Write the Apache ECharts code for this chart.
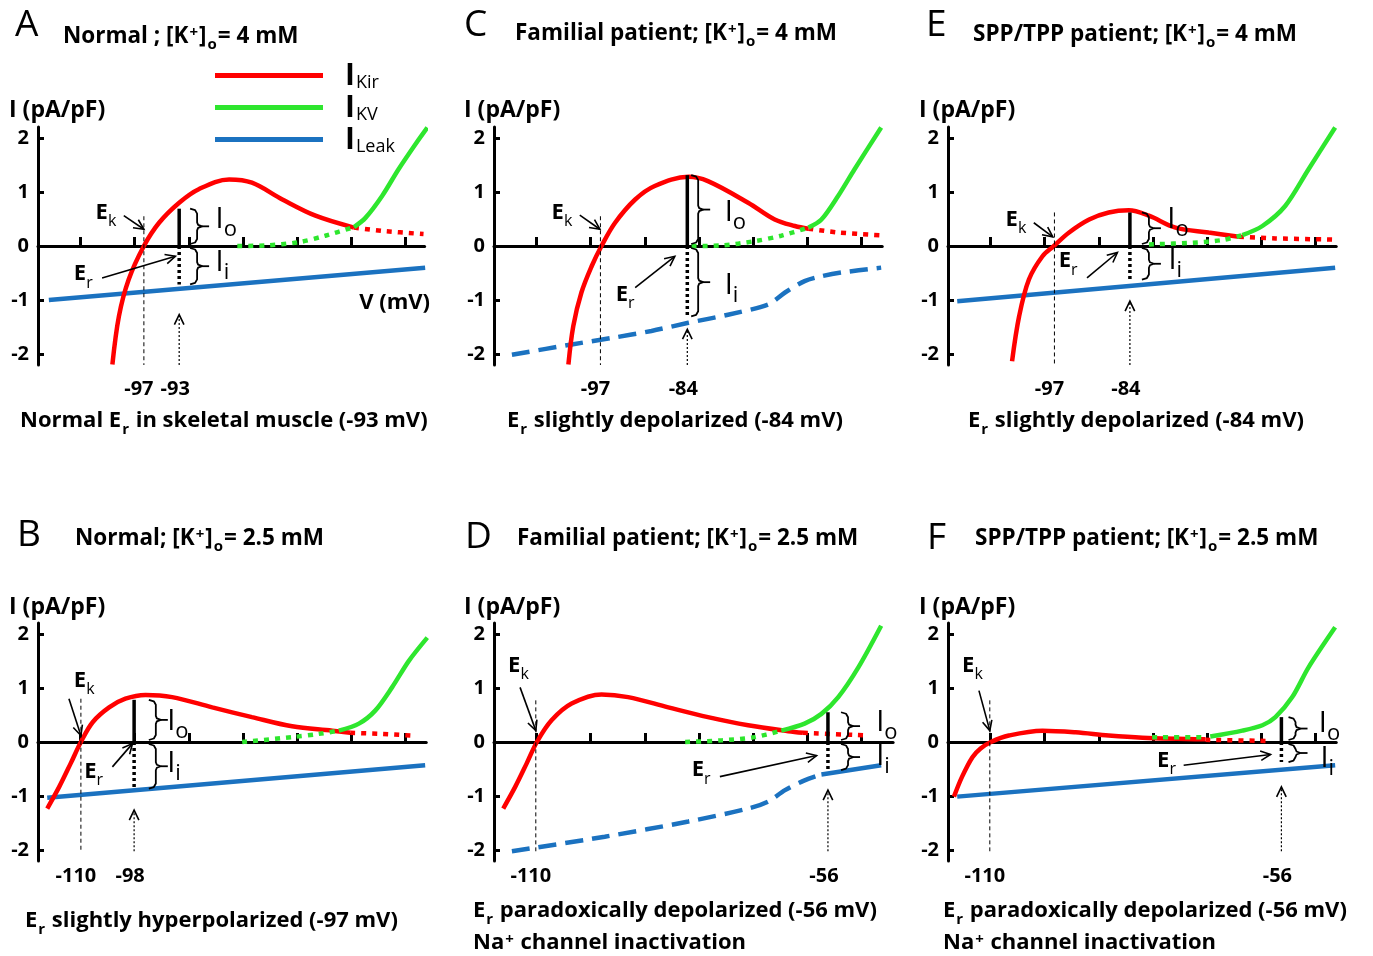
<!DOCTYPE html>
<html>
<head>
<meta charset="utf-8">
<title>IKir / IKv / ILeak</title>
<script src="https://cdn.jsdelivr.net/npm/echarts@6/dist/echarts.min.js"></script>
<style>
  html, body { margin: 0; padding: 0; background: #fff; }
  #chart { width: 1373px; height: 956px; }
</style>
</head>
<body>
<div id="chart"></div>
<script>
// panel order: A, C, E (top row) then B, D, F (bottom row)
// x is in "tick units" from the I axis (the sketch is not linear in mV), y in pA/pF
const panels = ['A', 'C', 'E', 'B', 'D', 'F'];

const kirA = [[1.37, -2.19], [1.49, -1.30], [1.67, -0.62], [1.95, 0], [2.23, 0.43], [2.60, 0.80], [2.96, 1.05], [3.52, 1.23], [3.94, 1.17], [4.50, 0.86], [5.11, 0.56], [5.82, 0.34]];
const kirOffA = [[5.82, 0.34], [6.34, 0.28], [7.10, 0.22]];
const kvOffA = [[3.67, 0], [4.19, 0.01], [4.80, 0.07], [5.29, 0.19], [5.82, 0.35]];
const kvA = [[5.82, 0.35], [6.03, 0.52], [6.34, 0.93], [6.64, 1.42], [6.97, 1.91], [7.17, 2.19]];
const leakA = [[0.20, -1.0], [7.13, -0.40]];
const leakDashA = [];

const kirC = [[1.37, -2.19], [1.46, -1.48], [1.61, -0.86], [1.80, -0.37], [1.98, 0], [2.23, 0.43], [2.60, 0.86], [2.96, 1.11], [3.58, 1.28], [3.94, 1.20], [4.68, 0.80], [5.17, 0.49], [5.54, 0.37], [5.79, 0.32]];
const kirOffC = [[5.79, 0.32], [6.34, 0.25], [7.10, 0.20]];
const kvOffC = [[3.64, 0], [4.19, 0.01], [4.80, 0.09], [5.29, 0.19], [5.79, 0.34]];
const kvC = [[5.79, 0.34], [6.03, 0.49], [6.34, 0.93], [6.64, 1.42], [7.13, 2.19]];
const leakC = [];
const leakDashC = [[0.33, -2.01], [1.43, -1.82], [2.17, -1.70], [2.90, -1.57], [3.58, -1.42], [4.31, -1.27], [5.05, -1.08], [5.36, -0.86], [5.72, -0.65], [6.03, -0.56], [6.40, -0.49], [7.13, -0.40]];

const kirE = [[1.18, -2.13], [1.31, -1.30], [1.49, -0.62], [1.74, -0.19], [1.95, 0], [2.23, 0.25], [2.60, 0.49], [2.96, 0.62], [3.33, 0.66], [3.70, 0.56], [4.19, 0.34], [4.80, 0.25], [5.36, 0.17]];
const kirOffE = [[5.36, 0.17], [6.03, 0.14], [7.10, 0.12]];
const kvOffE = [[3.70, 0.03], [4.50, 0.06], [5.05, 0.11], [5.42, 0.20]];
const kvE = [[5.42, 0.20], [5.79, 0.37], [6.21, 0.74], [6.64, 1.42], [7.13, 2.19]];
const leakE = [[0.17, -1.02], [7.13, -0.40]];
const leakDashE = [];

const kirB = [[0.17, -1.23], [0.39, -0.83], [0.60, -0.40], [0.79, 0], [1.01, 0.37], [1.31, 0.64], [1.61, 0.80], [1.98, 0.87], [2.47, 0.83], [3.21, 0.64], [3.94, 0.46], [4.68, 0.29], [5.42, 0.21], [5.75, 0.17]];
const kirOffB = [[5.75, 0.17], [6.34, 0.15], [6.86, 0.12]];
const kvOffB = [[3.76, 0], [4.68, 0.09], [5.17, 0.15], [5.54, 0.21]];
const kvB = [[5.54, 0.21], [5.91, 0.34], [6.21, 0.58], [6.52, 1.01], [6.83, 1.50], [7.17, 1.93]];
const leakB = [[0.17, -1.03], [7.13, -0.43]];
const leakDashB = [];

const kirD = [[0.17, -1.23], [0.39, -0.83], [0.60, -0.40], [0.79, 0], [1.06, 0.40], [1.43, 0.71], [1.98, 0.88], [2.47, 0.83], [3.21, 0.64], [3.94, 0.46], [4.68, 0.31], [5.42, 0.20], [5.69, 0.17]];
const kirOffD = [[5.69, 0.17], [6.89, 0.12]];
const kvOffD = [[3.52, 0], [4.19, 0.03], [4.80, 0.09], [5.29, 0.21]];
const kvD = [[5.29, 0.21], [5.72, 0.34], [6.03, 0.52], [6.34, 0.83], [6.71, 1.38], [7.13, 2.15]];
const leakD = [[6.03, -0.60], [7.13, -0.43]];
const leakDashD = [[0.33, -2.02], [2.04, -1.75], [3.58, -1.47], [4.68, -1.23], [5.05, -1.10], [5.36, -0.89], [5.72, -0.71], [6.03, -0.60]];

const kirF = [[0.11, -1.01], [0.26, -0.64], [0.45, -0.28], [0.60, -0.12], [0.79, 0], [1.12, 0.12], [1.74, 0.21], [2.35, 0.18], [2.96, 0.12], [3.58, 0.08], [4.74, 0.05]];
const kirOffF = [[4.74, 0.04], [5.88, 0.02]];
const kvOffF = [[3.76, 0.09], [4.74, 0.09]];
const kvF = [[4.83, 0.10], [5.42, 0.21], [5.79, 0.31], [6.03, 0.46], [6.34, 0.83], [6.64, 1.38], [7.13, 2.12]];
const leakF = [[0.17, -1.01], [7.13, -0.43]];
const leakDashF = [];

// marked voltages and current levels, per panel (A, C, E, B, D, F)
const ekX = [1.95, 1.96, 1.96, 0.79, 0.77, 0.77];
const erX = [2.60, 3.56, 3.35, 1.77, 6.15, 6.14];
const ekTickLabels = ['-97', '-97', '-97', '-110', '-110', '-110'];
const erTickLabels = ['-93', '-84', '-84', '-98', '-56', '-56'];
const ioTop = [0.69, 1.31, 0.62, 0.78, 0.55, 0.46];
const iiBottom = [-0.71, -1.30, -0.62, -0.86, -0.52, -0.37];
const arrowTip = [-1.27, -1.54, -1.02, -1.26, -0.89, -0.83];
const ekTop = [0.55, 0.55, 0.62, 0.80, 0.77, 0.77];
const xTicks = [0.77, 1.78, 2.79, 3.78, 4.78, 5.77, 6.77];
const yTicks = [-2, -1, 0, 1, 2];

const titleText = [
  '{b|Normal ; [K}{sp|+}{b|]}{sb|o}{b|= 4 mM}',
  '{b|Familial patient; [K}{sp|+}{b|]}{sb|o}{b|= 4 mM}',
  '{b|SPP/TPP patient; [K}{sp|+}{b|]}{sb|o}{b|= 4 mM}',
  '{b|Normal; [K}{sp|+}{b|]}{sb|o}{b|= 2.5 mM}',
  '{b|Familial patient; [K}{sp|+}{b|]}{sb|o}{b|= 2.5 mM}',
  '{b|SPP/TPP patient; [K}{sp|+}{b|]}{sb|o}{b|= 2.5 mM}'
];
const captionText = [
  '{c|Normal E}{sb|r}{c| in skeletal muscle (-93 mV)}',
  '{c|E}{sb|r}{c| slightly depolarized (-84 mV)}',
  '{c|E}{sb|r}{c| slightly depolarized (-84 mV)}',
  '{c|E}{sb|r}{c| slightly hyperpolarized (-97 mV)}',
  '{c|E}{sb|r}{c| paradoxically depolarized (-56 mV)}\n{c|Na}{sp|+}{c| channel inactivation}',
  '{c|E}{sb|r}{c| paradoxically depolarized (-56 mV)}\n{c|Na}{sp|+}{c| channel inactivation}'
];

const kir = [kirA, kirC, kirE, kirB, kirD, kirF];
const kirOff = [kirOffA, kirOffC, kirOffE, kirOffB, kirOffD, kirOffF];
const kvOff = [kvOffA, kvOffC, kvOffE, kvOffB, kvOffD, kvOffF];
const kv = [kvA, kvC, kvE, kvB, kvD, kvF];
const leak = [leakA, leakC, leakE, leakB, leakD, leakF];
const leakDash = [leakDashA, leakDashC, leakDashE, leakDashB, leakDashD, leakDashF];

// layout (pixels for the grids, axis units for the annotations)
const gridLeft = [38, 494, 948, 38, 494, 948];
const gridTop = [127, 127, 127, 623, 623, 623];
const xMax = [7.12, 7.15, 7.15, 7.15, 7.35, 7.15];
const UNIT = 54.3;

const layout = [
  { ek: [1.06, 0.62], er: [0.66, -0.52], io: [3.27, 0.49], ii: [3.27, -0.31], ekArr: [[1.58, 0.56], [1.95, 0.31]], erArr: [[1.18, -0.59], [2.53, -0.19]], brace: 2.93 },
  { ek: [1.06, 0.62], er: [2.24, -0.90], io: [4.25, 0.62], ii: [4.25, -0.74], ekArr: [[1.58, 0.57], [1.95, 0.31]], erArr: [[2.60, -0.77], [3.33, -0.19]], brace: 3.76 },
  { ek: [1.06, 0.49], er: [2.04, -0.28], io: [4.04, 0.49], ii: [4.06, -0.28], ekArr: [[1.58, 0.43], [1.93, 0.17]], erArr: [[2.56, -0.59], [3.12, -0.12]], brace: 3.70 },
  { ek: [0.66, 1.13], er: [0.85, -0.55], io: [2.38, 0.37], ii: [2.38, -0.40], ekArr: [[0.57, 0.80], [0.79, 0.12]], erArr: [[1.37, -0.46], [1.74, -0.03]], brace: 2.17 },
  { ek: [0.26, 1.41], er: [3.64, -0.52], io: [7.04, 0.35], ii: [7.04, -0.28], ekArr: [[0.48, 1.01], [0.77, 0.21]], erArr: [[4.16, -0.64], [5.94, -0.25]], brace: 6.52 },
  { ek: [0.26, 1.41], er: [3.85, -0.34], io: [6.83, 0.34], ii: [6.86, -0.31], ekArr: [[0.57, 0.95], [0.77, 0.21]], erArr: [[4.34, -0.43], [5.94, -0.23]], brace: 6.40 }
];

const letterPos = [[15, 25], [464, 25], [926, 25], [17, 535], [465, 537], [927, 538]];
const titlePos = [[63, 39], [515, 36], [973, 37], [75, 541], [517, 541], [975, 541]];
const yTitlePos = [[9, 110], [464, 110], [919, 110], [9, 607], [464, 607], [919, 607]];
const captionPos = [[20, 426], [507, 426], [968, 426], [25, 926], [473, 932], [943, 932]];

const RED = '#ff0000';
const GREEN = '#2ee62e';
const BLUE = '#1b72c0';
const FONT = '"Open Sans", sans-serif';

const ctx = document.createElement('canvas').getContext('2d');
function textWidth(str, font) {
  ctx.font = font;
  return ctx.measureText(str).width;
}

function chevron(out, from, to, size) {
  const dx = from[0] - to[0], dy = from[1] - to[1];
  const len = Math.hypot(dx, dy) || 1;
  const ux = dx / len, uy = dy / len, a = 0.45;
  const ca = Math.cos(a), sa = Math.sin(a);
  const p1 = [to[0] + size * (ux * ca - uy * sa), to[1] + size * (ux * sa + uy * ca)];
  const p2 = [to[0] + size * (ux * ca + uy * sa), to[1] + size * (-ux * sa + uy * ca)];
  out.push({ type: 'polyline', shape: { points: [p1, to, p2] }, style: { stroke: '#000', lineWidth: 1.6, fill: null } });
}

function seg(out, a, b, w, dash) {
  out.push({ type: 'line', shape: { x1: a[0], y1: a[1], x2: b[0], y2: b[1] }, style: { stroke: '#000', lineWidth: w, lineDash: dash || null, fill: null } });
}

function subLabel(out, p, main, sub, mainFont, subFont, dy) {
  out.push({ type: 'text', x: p[0], y: p[1], style: { text: main, font: mainFont, fill: '#000', align: 'left', verticalAlign: 'middle' } });
  const w = textWidth(main, mainFont);
  out.push({ type: 'text', x: p[0] + w, y: p[1] + dy, style: { text: sub, font: subFont, fill: '#000', align: 'left', verticalAlign: 'middle' } });
}

function brace(out, x, y1, y2) {
  const ym = (y1 + y2) / 2;
  const pts = [[x - 7, y1], [x - 2, y1 + 1.5], [x, y1 + 5], [x, ym - 4], [x + 1, ym - 1.5], [x + 5, ym], [x + 1, ym + 1.5], [x, ym + 4], [x, y2 - 5], [x - 2, y2 - 1.5], [x - 7, y2]];
  out.push({ type: 'polyline', shape: { points: pts }, style: { stroke: '#000', lineWidth: 1.8, fill: null, lineJoin: 'round' } });
  seg(out, [x + 5, ym], [x + 12, ym], 1.8);
}

function renderAnnot(i) {
  return function (params, api) {
    const c = (x, y) => api.coord([x, y]);
    const L = layout[i];
    const bottom = i < 3 ? -2.2 : -2.02;
    const out = [];
    // E_K guide
    seg(out, c(ekX[i], ekTop[i]), c(ekX[i], bottom), 1, [4, 3]);
    // E_r: outward (solid) and inward (dotted) current bars
    seg(out, c(erX[i], 0), c(erX[i], ioTop[i]), 3.5);
    seg(out, c(erX[i], 0), c(erX[i], iiBottom[i]), 3.5, [3, 3]);
    // upward dotted pointer under E_r
    const tip = c(erX[i], arrowTip[i]);
    seg(out, c(erX[i], bottom), tip, 1.2, [2, 2]);
    chevron(out, [tip[0], tip[1] + 20], tip, 11);
    // braces for Io / Ii
    const bx = c(L.brace, 0)[0];
    brace(out, bx, c(0, ioTop[i])[1], c(0, 0)[1] - 2);
    brace(out, bx, c(0, 0)[1] + 2, c(0, iiBottom[i])[1]);
    // labels
    const bigE = 'bold 22px ' + FONT, smallE = '16px ' + FONT;
    const bigI = '29px ' + FONT, smallI = '22px ' + FONT;
    subLabel(out, c(L.ek[0], L.ek[1]), 'E', 'k', bigE, smallE, 9);
    subLabel(out, c(L.er[0], L.er[1]), 'E', 'r', bigE, smallE, 9);
    subLabel(out, c(L.io[0], L.io[1]), 'I', 'o', bigI, smallI, 10);
    subLabel(out, c(L.ii[0], L.ii[1]), 'I', 'i', bigI, smallI, 10);
    // arrows to E_K and E_r
    const ea = [c(L.ekArr[0][0], L.ekArr[0][1]), c(L.ekArr[1][0], L.ekArr[1][1])];
    seg(out, ea[0], ea[1], 1.6);
    chevron(out, ea[0], ea[1], 11);
    const ra = [c(L.erArr[0][0], L.erArr[0][1]), c(L.erArr[1][0], L.erArr[1][1])];
    seg(out, ra[0], ra[1], 1.6);
    chevron(out, ra[0], ra[1], 11);
    // voltage labels under the axis
    const ly = c(0, -2.2)[1] + (i < 3 ? 24 : 15);
    const tickFont = 'bold 20px ' + FONT;
    out.push({ type: 'text', x: c(ekX[i], 0)[0] - 5, y: ly, style: { text: ekTickLabels[i], font: tickFont, fill: '#000', align: 'center', verticalAlign: 'middle' } });
    out.push({ type: 'text', x: c(erX[i], 0)[0] - 4, y: ly, style: { text: erTickLabels[i], font: tickFont, fill: '#000', align: 'center', verticalAlign: 'middle' } });
    if (i === 0) {
      const vp = c(7.22, -1.05);
      out.push({ type: 'text', x: vp[0], y: vp[1], style: { text: 'V (mV)', font: 'bold 22px ' + FONT, fill: '#000', align: 'right', verticalAlign: 'middle' } });
    }
    return { type: 'group', children: out };
  };
}

const grids = [], xAxes = [], yAxes = [], series = [], graphics = [];
const richText = {
  b: { fontSize: 22.5, fontWeight: 'bold', fontFamily: FONT, color: '#000', verticalAlign: 'top' },
  c: { fontSize: 22, fontWeight: 'bold', fontFamily: FONT, color: '#000', verticalAlign: 'top' },
  sp: { fontSize: 15, fontWeight: 'bold', fontFamily: FONT, color: '#000', verticalAlign: 'top', padding: [0, 1, 0, 1] },
  sb: { fontSize: 15, fontWeight: 'bold', fontFamily: FONT, color: '#000', verticalAlign: 'top', padding: [12, 1, 0, 1] }
};

panels.forEach((p, i) => {
  grids.push({ left: gridLeft[i], top: gridTop[i], width: xMax[i] * UNIT, height: 238, containLabel: false });
  xAxes.push({
    type: 'value', gridIndex: i, min: 0, max: xMax[i],
    axisLine: { onZero: true, lineStyle: { color: '#000', width: 3 } },
    axisTick: { inside: true, length: 9, lineStyle: { color: '#000', width: 3 }, customValues: xTicks },
    axisLabel: { show: false },
    splitLine: { show: false }
  });
  yAxes.push({
    type: 'value', gridIndex: i, min: -2.2, max: 2.2,
    axisLine: { show: true, onZero: false, lineStyle: { color: '#000', width: 3 } },
    axisTick: { show: true, inside: true, length: 6, lineStyle: { color: '#000', width: 3 }, customValues: yTicks },
    axisLabel: { customValues: yTicks, color: '#000', fontSize: 20, fontWeight: 'bold', fontFamily: FONT, margin: 9 },
    splitLine: { show: false }
  });
  const base = { type: 'line', xAxisIndex: i, yAxisIndex: i, showSymbol: false, symbol: 'none', silent: true, animation: false };
  series.push(Object.assign({}, base, { name: 'ILeak', data: leak[i], color: BLUE, lineStyle: { color: BLUE, width: 4.5 } }));
  series.push(Object.assign({}, base, { name: 'ILeak (shifted)', data: leakDash[i], smooth: 0.3, color: BLUE, lineStyle: { color: BLUE, width: 4.5, type: [18, 9] } }));
  series.push(Object.assign({}, base, { name: 'IKir', data: kir[i], smooth: 0.35, color: RED, lineStyle: { color: RED, width: 4.5 } }));
  series.push(Object.assign({}, base, { name: 'IKir (masked)', data: kirOff[i], smooth: 0.3, color: RED, lineStyle: { color: RED, width: 4.5, type: [5, 6] } }));
  series.push(Object.assign({}, base, { name: 'IKv (small)', data: kvOff[i], smooth: 0.3, color: GREEN, lineStyle: { color: GREEN, width: 4.5, type: [5, 6] } }));
  series.push(Object.assign({}, base, { name: 'IKv', data: kv[i], smooth: 0.3, color: GREEN, lineStyle: { color: GREEN, width: 4.5 } }));
  series.push({ type: 'custom', xAxisIndex: i, yAxisIndex: i, data: [[erX[i], 0]], renderItem: renderAnnot(i), silent: true, z: 5, clip: false });

  graphics.push({ type: 'text', x: letterPos[i][0], y: letterPos[i][1], style: { text: p, font: '37px ' + FONT, fill: '#000', verticalAlign: 'middle' } });
  graphics.push({ type: 'text', x: titlePos[i][0], y: titlePos[i][1], style: { text: titleText[i], rich: richText, verticalAlign: 'middle' } });
  graphics.push({ type: 'text', x: yTitlePos[i][0], y: yTitlePos[i][1], style: { text: 'I (pA/pF)', font: 'bold 23px ' + FONT, fill: '#000', verticalAlign: 'middle' } });
  graphics.push({ type: 'text', x: captionPos[i][0], y: captionPos[i][1], style: { text: captionText[i], rich: richText, verticalAlign: 'middle', lineHeight: 32 } });
});

const legendSub = { IKir: 'Kir', IKv: 'KV', ILeak: 'Leak' };

const chart = echarts.init(document.getElementById('chart'));
chart.setOption({
  animation: false,
  grid: grids,
  xAxis: xAxes,
  yAxis: yAxes,
  series: series,
  graphic: graphics,
  legend: {
    orient: 'vertical', left: 210, top: 56, itemWidth: 108, itemHeight: 5, itemGap: 1,
    selectedMode: false,
    data: [
      { name: 'IKir', icon: 'rect', itemStyle: { color: RED } },
      { name: 'IKv', icon: 'rect', itemStyle: { color: GREEN } },
      { name: 'ILeak', icon: 'rect', itemStyle: { color: BLUE } }
    ],
    formatter: name => '{i|I}{s|' + legendSub[name] + '}',
    textStyle: {
      rich: {
        i: { fontSize: 30, fontFamily: FONT, fontWeight: 'bold', color: '#000', verticalAlign: 'top', padding: [2, 0, 0, 17] },
        s: { fontSize: 18, fontFamily: FONT, color: '#000', verticalAlign: 'top', padding: [15, 0, 0, 1] }
      }
    }
  }
});
</script>
</body>
</html>
